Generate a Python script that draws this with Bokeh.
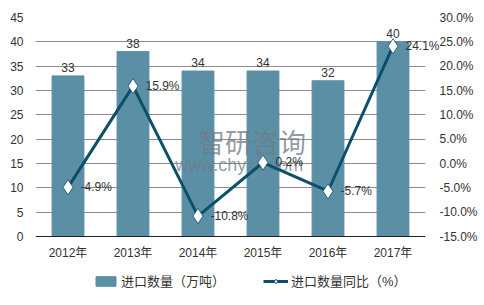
from bokeh.plotting import figure
from bokeh.models import (ColumnDataSource, Range1d, LinearAxis, SingleIntervalTicker,
                          PrintfTickFormatter, Legend, LegendItem, FactorRange, LabelSet,
                          HTMLLabelSet, HTMLLabel)
from bokeh.core.properties import value
from bokeh.embed import file_html
from bokeh.resources import INLINE

years = ["2012年", "2013年", "2014年", "2015年", "2016年", "2017年"]
volume = [33, 38, 34, 34, 32, 40]
yoy = [-4.9, 15.9, -10.8, 0.2, -5.7, 24.1]
yoy_labels = ["-4.9%", "15.9%", "-10.8%", "0.2%", "-5.7%", "24.1%"]

FONT = "Liberation Sans, Arial, Noto Sans CJK SC"
BAR = "#5b8fa6"
LINE = "#0b5068"

src = ColumnDataSource(dict(x=years, v=volume, vl=[str(v) for v in volume],
                            y=yoy, yl=yoy_labels))

# frame extends below the zero line so the legend sits inside it
EXTRA = 13.15
p = figure(frame_width=390, frame_height=283, x_range=FactorRange(*years),
           y_range=Range1d(-EXTRA, 45),
           output_backend="svg", toolbar_location=None,
           min_border_left=35, min_border_right=59, min_border_top=17, min_border_bottom=5)
p.extra_y_ranges = {"pct": Range1d(-15 - EXTRA, 30)}
p.outline_line_color = None

bars = p.vbar(x="x", top="v", width=0.49, source=src, color=BAR)
p.add_layout(LabelSet(x="x", y="v", text="vl", source=src, text_align="center",
                      text_baseline="bottom", y_offset=4, text_font=value("Liberation Sans"),
                      text_font_size=value("12px"), text_color="#333333"))

# watermark
p.text(x=[2.5], y=[19.5], text=["智研咨询"], text_font=value("Noto Sans CJK SC"),
       text_font_size="27px", text_color="#6f7c86", text_alpha=0.75, text_baseline="middle")
p.text(x=[2.15], y=[14.6], text=["www.chyxx.com"], text_font=value("Liberation Sans"),
       text_font_size="18px", text_color="#6f7c86", text_alpha=0.75, text_baseline="middle")

ln = p.line(x="x", y="y", source=src, y_range_name="pct", line_color=LINE, line_width=3)
mk = p.scatter(x="x", y="y", source=src, y_range_name="pct", marker="diamond", size=15,
               fill_color="white", line_color=LINE, line_width=0.8)
p.add_layout(HTMLLabelSet(x="x", y="y", text="yl", source=src, y_range_name="pct",
                          text_align="left", text_baseline="middle", x_offset=13,
                          text_font=value("Liberation Sans"), text_font_size=value("12px"),
                          text_color="#333333"))

p.yaxis.ticker = SingleIntervalTicker(interval=5)
p.yaxis.bounds = (0, 45)
p.ygrid.ticker = SingleIntervalTicker(interval=5)
p.ygrid.bounds = (0, 45)
p.ygrid.grid_line_color = "#8c8c8c"
p.xgrid.grid_line_color = None

right = LinearAxis(y_range_name="pct", ticker=SingleIntervalTicker(interval=5),
                   formatter=PrintfTickFormatter(format="%.1f%%"), bounds=(-15, 30))
p.add_layout(right, "right")

for ax in [p.yaxis[0], right]:
    ax.axis_line_color = None
    ax.major_tick_line_color = None
    ax.minor_tick_line_color = None
    ax.major_tick_out = 0
    ax.major_tick_in = 0
    ax.major_label_text_font = FONT
    ax.major_label_text_font_size = "12px"
    ax.major_label_text_color = "#333333"
p.yaxis[0].major_label_standoff = 8
right.major_label_standoff = 10

xa = p.xaxis[0]
xa.fixed_location = 0
xa.axis_line_color = "#222222"
xa.major_tick_line_color = None
xa.minor_tick_line_color = None
xa.major_tick_out = 0
xa.major_tick_in = 0
xa.major_label_text_font = FONT
xa.major_label_text_font_size = "12px"
xa.major_label_text_color = "#333333"
xa.major_label_standoff = 9

legend = Legend(items=[LegendItem(label="进口数量（万吨）", renderers=[bars]),
                       LegendItem(label="进口数量同比（%）", renderers=[ln, mk])],
                orientation="horizontal", location=(58, 10),
                label_text_font=FONT, label_text_font_size="13px", label_text_color="#333333",
                glyph_width=25, glyph_height=12, spacing=38, label_standoff=3,
                border_line_color=None, background_fill_alpha=0, padding=0, margin=0)
p.add_layout(legend, "center")

# outer chart border
p.add_layout(HTMLLabel(x=3, y=1, x_units="canvas", y_units="canvas", text="",
                       text_align="left", text_baseline="top", padding=(239, 150),
                       border_line_color="#8c8c8c", border_line_width=1,
                       background_fill_alpha=0))

open("out.html", "w").write(file_html(p, INLINE))
